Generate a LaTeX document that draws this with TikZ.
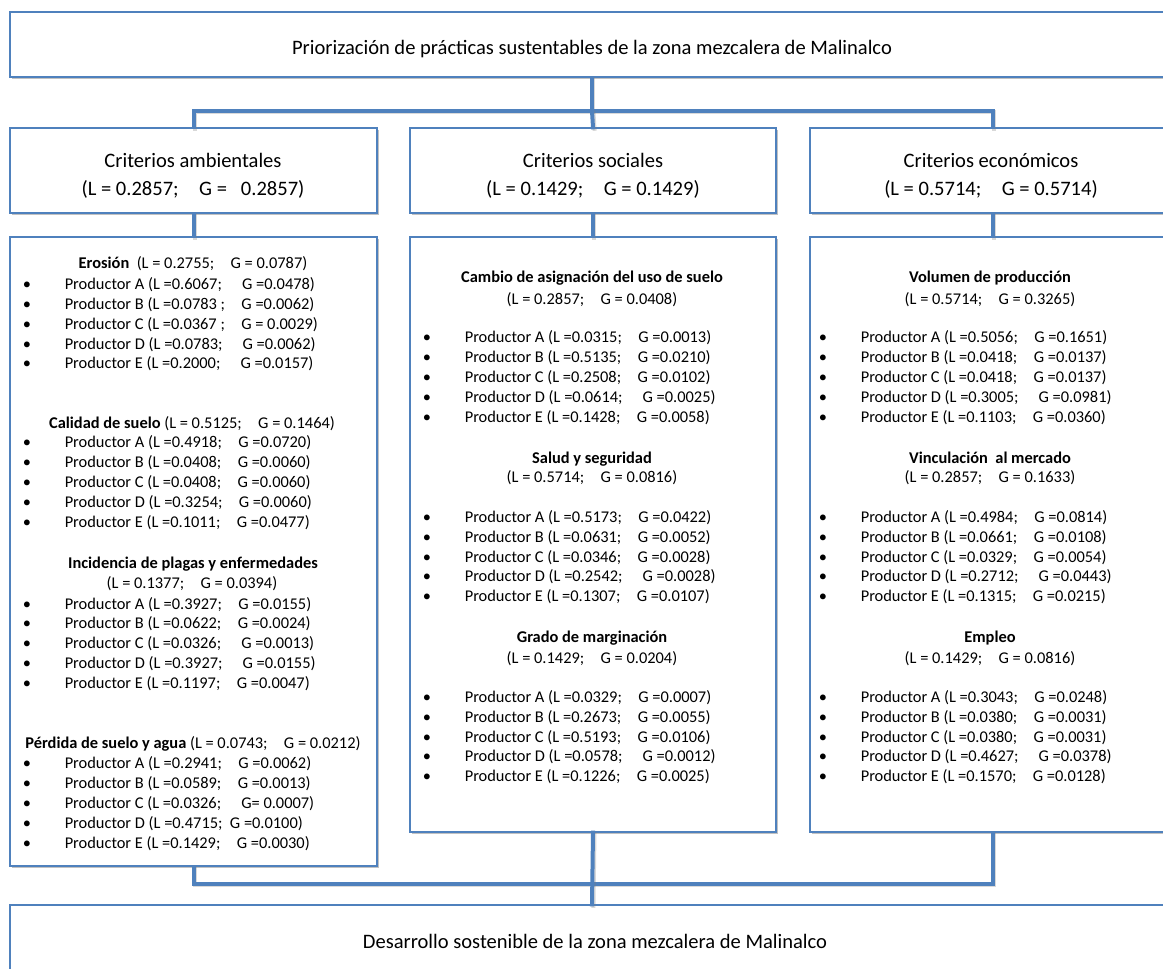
\documentclass[tikz,border=0pt]{standalone}
\usepackage{fontspec}
\setmainfont{Carlito}
\usetikzlibrary{shadows}
\definecolor{ofblue}{RGB}{79,129,189}

\tikzset{
  box/.style 2 args={draw=ofblue, line width=1pt, fill=white, inner sep=0pt,
    minimum width={#1*0.75pt}, minimum height={#2*0.75pt},
    drop shadow={shadow xshift=1.6pt, shadow yshift=-1.6pt, opacity=0.35, fill=black!70}},
  link/.style={draw=ofblue, line width=3pt, line cap=rect,
    preaction={draw=black!50, opacity=0.3, line width=3pt, line cap=rect,
      transform canvas={shift={(1.1pt,-1.1pt)}}}},
  bigtxt/.style={anchor=base, inner sep=0pt, yshift=-1.3pt, font=\fontsize{15.4}{18}\selectfont},
  head/.style={anchor=base, inner sep=0pt, yshift=-1.2pt, font=\fontsize{12.3}{14}\selectfont},
  item/.style={anchor=base west, inner sep=0pt, yshift=-1.5pt, font=\fontsize{12.3}{14}\selectfont},
  bul/.style={anchor=base, inner sep=0pt, yshift=-1.5pt, font=\fontsize{12.3}{14}\selectfont},
}

% one list of five producers: #1 bullet x, #2 name prefix, #3 first baseline, #4 line step, #5 entries
\newcommand{\prodrows}[5]{%
  \foreach \txt [count=\i] in {#5} {
    \node[bul] (#2b\i) at (#1, {#3+(\i-1)*#4}) {•};
    \node[item] (#2t\i) at ({#1+37.5}, {#3+(\i-1)*#4}) {Productor \txt};
  }}

\begin{document}
\begin{tikzpicture}[x=0.75pt, y=-0.75pt]
\useasboundingbox (0,0) rectangle (1163,969);

% ---------- boxes ----------
\node[box={1164}{65}]  (top)  at (592,44.5) {};
\node[box={367}{85}]   (amb)  at (193.5,170.5) {};
\node[box={366}{85}]   (soc)  at (593,170.5) {};
\node[box={366}{85}]   (eco)  at (993,170.5) {};
\node[box={367}{629}]  (ambd) at (193.5,551.5) {};
\node[box={366}{595}]  (socd) at (593,534.5) {};
\node[box={366}{595}]  (ecod) at (993,534.5) {};
\node[box={1164}{90}]  (goal) at (592,950) {};

% ---------- connectors ----------
\coordinate (busA) at (593,111);
\coordinate (busB) at (593,884);
\path[link] (top.south) -- (top.south |- busA);
\path[link] (amb.north) -- (amb.north |- busA) -- (eco.north |- busA) -- (eco.north);
\path[link] (top.south |- busA) -- (soc.north);
\path[link] (amb.south) -- (ambd.north);
\path[link] (soc.south) -- (socd.north);
\path[link] (eco.south) -- (ecod.north);
\path[link] (ambd.south) -- (ambd.south |- busB) -- (ecod.south |- busB) -- (ecod.south);
\path[link] (socd.south) -- (goal.north);

% ---------- titles ----------
\node[bigtxt] (tTop) at (592,53) {Priorización de prácticas sustentables de la zona mezcalera de Malinalco};
\node[bigtxt] (tAmb1) at (193,166) {Criterios ambientales};
\node[bigtxt] (tAmb2) at (193,194) {(L = 0.2857;\quad G = \ \ 0.2857)};
\node[bigtxt] (tSoc1) at (593,166) {Criterios sociales};
\node[bigtxt] (tSoc2) at (593,194) {(L = 0.1429;\quad G = 0.1429)};
\node[bigtxt] (tEco1) at (991,166) {Criterios económicos};
\node[bigtxt] (tEco2) at (991,194) {(L = 0.5714;\quad G = 0.5714)};
\node[bigtxt] (tGoal) at (595,947) {Desarrollo sostenible de la zona mezcalera de Malinalco};

% ---------- environmental criteria ----------
\node[head] (hA1) at (193,266.5) {\textbf{Erosión} \ (L = 0.2755;\quad G = 0.0787)};
\prodrows{27}{ea}{288}{19.7}{
  {A (L =0.6067;\quad\ G =0.0478)},
  {B (L =0.0783 ;\quad G =0.0062)},
  {C (L =0.0367 ;\quad G = 0.0029)},
  {D (L =0.0783;\quad\ G =0.0062)},
  {E (L =0.2000;\quad\ G =0.0157)}}
\node[head] (hA2) at (192,426.5) {\textbf{Calidad de suelo} (L = 0.5125;\quad G = 0.1464)};
\prodrows{27}{eb}{446}{19.9}{
  {A (L =0.4918;\quad G =0.0720)},
  {B (L =0.0408;\quad G =0.0060)},
  {C (L =0.0408;\quad G =0.0060)},
  {D (L =0.3254;\quad G =0.0060)},
  {E (L =0.1011;\quad G =0.0477)}}
\node[head] (hA3) at (193,566.5) {\textbf{Incidencia de plagas y enfermedades}};
\node[head] (hA3b) at (192,586.5) {(L = 0.1377;\quad G = 0.0394)};
\prodrows{27}{ec}{607}{19.8}{
  {A (L =0.3927;\quad G =0.0155)},
  {B (L =0.0622;\quad G =0.0024)},
  {C (L =0.0326;\quad\ G =0.0013)},
  {D (L =0.3927;\quad\ G =0.0155)},
  {E (L =0.1197;\quad G =0.0047)}}
\node[head] (hA4) at (193,747) {\textbf{Pérdida de suelo y agua} (L = 0.0743;\quad G = 0.0212)};
\prodrows{27}{ed}{766.5}{20}{
  {A (L =0.2941;\quad G =0.0062)},
  {B (L =0.0589;\quad G =0.0013)},
  {C (L =0.0326;\quad\ G= 0.0007)},
  {D (L =0.4715;\ \ G =0.0100)},
  {E (L =0.1429;\quad G =0.0030)}}

% ---------- social criteria ----------
\node[head] (hS1) at (592,280.5) {\textbf{Cambio de asignación del uso de suelo}};
\node[head] (hS1b) at (592,302.5) {(L = 0.2857;\quad G = 0.0408)};
\prodrows{427}{sa}{340.5}{20}{
  {A (L =0.0315;\quad G =0.0013)},
  {B (L =0.5135;\quad G =0.0210)},
  {C (L =0.2508;\quad G =0.0102)},
  {D (L =0.0614;\quad\ G =0.0025)},
  {E (L =0.1428;\quad G =0.0058)}}
\node[head] (hS2) at (592,461.5) {\textbf{Salud y seguridad}};
\node[head] (hS2b) at (592,480.5) {(L = 0.5714;\quad G = 0.0816)};
\prodrows{427}{sb}{520.5}{19.8}{
  {A (L =0.5173;\quad G =0.0422)},
  {B (L =0.0631;\quad G =0.0052)},
  {C (L =0.0346;\quad G =0.0028)},
  {D (L =0.2542;\quad\ G =0.0028)},
  {E (L =0.1307;\quad G =0.0107)}}
\node[head] (hS3) at (592,640.5) {\textbf{Grado de marginación}};
\node[head] (hS3b) at (592,661.5) {(L = 0.1429;\quad G = 0.0204)};
\prodrows{427}{sc}{700.5}{19.8}{
  {A (L =0.0329;\quad G =0.0007)},
  {B (L =0.2673;\quad G =0.0055)},
  {C (L =0.5193;\quad G =0.0106)},
  {D (L =0.0578;\quad\ G =0.0012)},
  {E (L =0.1226;\quad G =0.0025)}}

% ---------- economic criteria ----------
\node[head] (hE1) at (990,280.5) {\textbf{Volumen de producción}};
\node[head] (hE1b) at (990,302.5) {(L = 0.5714;\quad G = 0.3265)};
\prodrows{823}{ca}{340.5}{20}{
  {A (L =0.5056;\quad G =0.1651)},
  {B (L =0.0418;\quad G =0.0137)},
  {C (L =0.0418;\quad G =0.0137)},
  {D (L =0.3005;\quad\ G =0.0981)},
  {E (L =0.1103;\quad G =0.0360)}}
\node[head] (hE2) at (990,461.5) {\textbf{Vinculación \ al mercado}};
\node[head] (hE2b) at (990,480.5) {(L = 0.2857;\quad G = 0.1633)};
\prodrows{823}{cb}{520.5}{19.8}{
  {A (L =0.4984;\quad G =0.0814)},
  {B (L =0.0661;\quad G =0.0108)},
  {C (L =0.0329;\quad G =0.0054)},
  {D (L =0.2712;\quad\ G =0.0443)},
  {E (L =0.1315;\quad G =0.0215)}}
\node[head] (hE3) at (990,640.5) {\textbf{Empleo}};
\node[head] (hE3b) at (990,661.5) {(L = 0.1429;\quad G = 0.0816)};
\prodrows{823}{cc}{700.5}{19.8}{
  {A (L =0.3043;\quad G =0.0248)},
  {B (L =0.0380;\quad G =0.0031)},
  {C (L =0.0380;\quad G =0.0031)},
  {D (L =0.4627;\quad\ G =0.0378)},
  {E (L =0.1570;\quad G =0.0128)}}
\end{tikzpicture}
\end{document}
